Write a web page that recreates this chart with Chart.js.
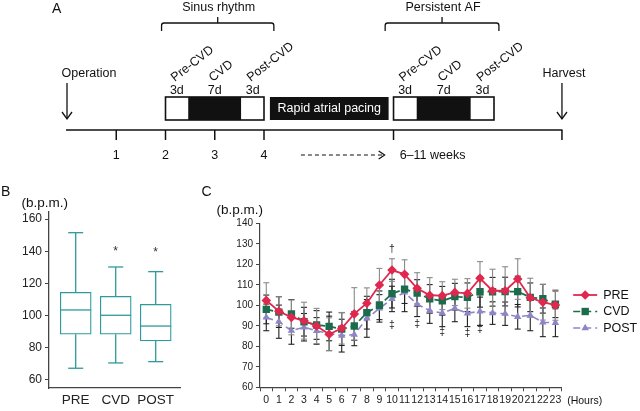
<!DOCTYPE html>
<html><head><meta charset="utf-8">
<script src="https://cdn.jsdelivr.net/npm/chart.js@4.4.1/dist/chart.umd.min.js"></script>
<style>
html,body{margin:0;padding:0;background:#fff;}
#wrap{position:relative;width:640px;height:411px;overflow:hidden;background:#fff}
canvas{position:absolute}
</style></head><body>
<div id="wrap">
<canvas id="cA" width="640" height="180" style="left:0;top:0;width:640px;height:180px"></canvas>
<canvas id="cB" width="185" height="231" style="left:0;top:180px;width:185px;height:231px"></canvas>
<canvas id="cC" width="455" height="231" style="left:185px;top:180px;width:455px;height:231px"></canvas>
</div>
<script>
// ---------- Panel A (protocol timeline) ----------
const timelineTicks = [1, 2, 3, 4, 6.63, 10.05];
const timelineTickLabels = ['1', '2', '3', '4'];
const timelineEnd = 10.05;
const operationAt = 0;
const harvestAt = 10.05;
const periodTitles = ['Sinus rhythm', 'Persistent AF'];
const periodBoxes = [[2.0, 4.0], [6.63, 8.67]];
const periodBraces = [[1.92, 4.2], [6.46, 8.77]];
const phaseNames = ['Pre-CVD', 'CVD', 'Post-CVD'];
const phaseDays = [3, 7, 3];
const phaseDayLabels = ['3d', '7d', '3d'];
const pacingBox = [4.12, 6.53];
const pacingLabel = 'Rapid atrial pacing';
const weeksArrow = [4.75, 6.45];
const weeksLabel = '6\u201311 weeks';

// ---------- Panel B (box plot) ----------
const boxCats = ['PRE', 'CVD', 'POST'];
const boxMin = [67.3, 70.6, 71.4];
const boxQ1 = [88.4, 88.4, 84.2];
const boxMed = [103.5, 100.2, 93.5];
const boxQ3 = [114.5, 112, 107];
const boxMax = [151.5, 130.2, 127.3];
const boxStar = [null, 140.7, 140.3];
const boxYTicks = [60, 80, 100, 120, 140, 160];

// ---------- Panel C (hourly heart rate) ----------
const hours = ['0','1','2','3','4','5','6','7','8','9','10','11','12','13','14','15','16','17','18','19','20','21','22','23'];
const preHR  = [102.4,97.1,94.1,92.5,89.9,85.9,88.8,95.8,101,109.9,117.2,115.1,108.3,104.9,104.7,106.3,105.8,113.2,107.1,107.1,112.8,103.7,101.5,100.1];
const preSD  = [8.6,7.1,8.5,9,8.6,8,7.7,12.8,7.5,8.1,5.5,7.1,7.6,8.6,6.8,6.4,7.2,8.1,10.5,11.7,9.9,9.5,8.7,7.4];
const cvdHR  = [98,96.7,95.8,92,90.4,89.7,88.4,89.9,96.4,100,105.7,107.9,106,103.1,102.2,104.2,103.9,106.6,106.6,106.7,106.7,103.9,103.2,100.5];
const cvdSD  = [7,7.5,7,7,7,7,8,7,8,7,7,7,6.5,7,7,6.5,7,7.5,7,7,7.5,7,7,6.5];
const postHR = [94.1,92,87.6,89.3,87.5,86.3,85.2,85.7,93.6,98.5,103.1,106.3,100.5,97.4,96.2,98.5,96.1,97.1,96.2,95.9,94.4,95.1,91.7,91.5];
const postSD = [6.5,8.1,6.6,6.7,6.5,8.4,8,5.4,9.2,6.7,6.2,9.4,6,6.2,6.6,6.5,6.5,6.9,5.5,5.7,6,7.5,7,6.8];
const seriesNames = ['PRE', 'CVD', 'POST'];
const daggerMarks = [{hour: 10, value: 127.5, sym: '\u2020'}];
const ddaggerMarks = [{hour: 10, value: 90.5}, {hour: 12, value: 91}, {hour: 14, value: 87}, {hour: 16, value: 86.3}, {hour: 17, value: 88.5}];

const FONT = '"Liberation Sans", Arial, Helvetica, sans-serif';
const fnt = s => s + 'px ' + FONT;
Chart.defaults.font.family = FONT;
Chart.defaults.color = '#222';

const RED = '#e0284f', GREEN = '#1b6c4c', LAV = '#8d86c6', TEAL = '#2e9a9b';

function line(ctx, x1, y1, x2, y2) { ctx.beginPath(); ctx.moveTo(x1, y1); ctx.lineTo(x2, y2); ctx.stroke(); }

// ================= Panel A =================
const aPlugin = {
  id: 'schematic',
  afterDraw(chart) {
    const ctx = chart.ctx;
    const X = v => chart.scales.x.getPixelForValue(v);
    const Y = v => chart.scales.y.getPixelForValue(v);
    ctx.save();
    ctx.fillStyle = '#111'; ctx.strokeStyle = '#111';
    ctx.textBaseline = 'middle';
    ctx.font = fnt(14); ctx.textAlign = 'left';
    ctx.fillText('A', 52, 9);

    // period titles and braces
    ctx.font = fnt(12.5);
    periodTitles.forEach((t, i) => {
      const [b1, b2] = periodBraces[i];
      const x1 = X(b1), x2 = X(b2), xm = (x1 + x2) / 2;
      ctx.textAlign = 'center';
      ctx.fillText(t, xm + 1, Y(8));
      ctx.lineWidth = 1.3;
      ctx.beginPath();
      ctx.moveTo(x1, Y(31)); ctx.lineTo(x1, Y(25.5));
      ctx.quadraticCurveTo(x1, Y(23), x1 + 2.5, Y(23));
      ctx.lineTo(x2 - 2.5, Y(23));
      ctx.quadraticCurveTo(x2, Y(23), x2, Y(25.5));
      ctx.lineTo(x2, Y(31));
      ctx.moveTo(xm, Y(23)); ctx.lineTo(xm, Y(17));
      ctx.stroke();
    });

    // boxes with phases
    periodBoxes.forEach(([s, e]) => {
      const total = phaseDays.reduce((a, b) => a + b, 0);
      let cur = s;
      phaseDays.forEach((d, k) => {
        const nxt = cur + (e - s) * d / total;
        const xa = X(cur), xb = X(nxt), xc = (xa + xb) / 2;
        ctx.fillStyle = k === 1 ? '#111' : '#fff';
        ctx.fillRect(xa, Y(97), xb - xa, Y(120) - Y(97));
        ctx.fillStyle = '#111';
        ctx.font = fnt(12.5); ctx.textAlign = 'center';
        ctx.fillText(phaseDayLabels[k], xc, Y(91));
        ctx.save();
        ctx.translate(xc - 2, Y(82));
        ctx.rotate(-38 * Math.PI / 180);
        ctx.textAlign = 'left'; ctx.textBaseline = 'alphabetic';
        ctx.font = fnt(12.5);
        ctx.fillText(phaseNames[k], 0, 0);
        ctx.restore();
        cur = nxt;
      });
      ctx.lineWidth = 1.6;
      ctx.strokeRect(X(s), Y(97), X(e) - X(s), Y(120) - Y(97));
    });

    // pacing box
    ctx.fillStyle = '#111';
    ctx.fillRect(X(pacingBox[0]), Y(97), X(pacingBox[1]) - X(pacingBox[0]), Y(120) - Y(97));
    ctx.fillStyle = '#fff'; ctx.textAlign = 'center'; ctx.font = fnt(12.5);
    ctx.fillText(pacingLabel, (X(pacingBox[0]) + X(pacingBox[1])) / 2, Y(108.5));
    ctx.fillStyle = '#111';

    // operation / harvest arrows
    ctx.lineWidth = 1.3;
    [[operationAt, 'Operation', 'left', -5.5], [harvestAt, 'Harvest', 'center', 2]].forEach(([u, t, al, dx]) => {
      const x = X(u);
      ctx.textAlign = al; ctx.font = fnt(12.5);
      ctx.fillText(t, x + dx, Y(74));
      line(ctx, x, Y(83), x, Y(119));
      ctx.beginPath(); ctx.moveTo(x - 5, Y(112)); ctx.lineTo(x, Y(119)); ctx.lineTo(x + 5, Y(112)); ctx.stroke();
    });

    // timeline
    ctx.lineWidth = 1.5;
    line(ctx, X(0) - 1, Y(130), X(timelineEnd) + 0.5, Y(130));
    timelineTicks.forEach(u => line(ctx, X(u), Y(130), X(u), Y(140)));
    ctx.font = fnt(12.5); ctx.textAlign = 'center';
    timelineTickLabels.forEach((l, i) => ctx.fillText(l, X(timelineTicks[i]), Y(156)));

    // dashed arrow + weeks
    ctx.lineWidth = 1.2; ctx.setLineDash([4, 3]);
    line(ctx, X(weeksArrow[0]), Y(155), X(weeksArrow[1]), Y(155));
    ctx.setLineDash([]);
    const xe = X(weeksArrow[1]);
    ctx.beginPath(); ctx.moveTo(xe - 6, Y(151)); ctx.lineTo(xe, Y(155)); ctx.lineTo(xe - 6, Y(159)); ctx.stroke();
    ctx.textAlign = 'left';
    ctx.fillText(weeksLabel, X(weeksArrow[1]) + 15, Y(156));
    ctx.restore();
  }
};

new Chart(document.getElementById('cA'), {
  type: 'scatter',
  data: { datasets: [{ data: [] }] },
  options: {
    responsive: false, animation: false, events: [],
    layout: { padding: 0 },
    plugins: { legend: { display: false }, tooltip: { enabled: false } },
    scales: {
      x: { type: 'linear', display: false, min: -67 / 49.25, max: (640 - 67) / 49.25 },
      y: { type: 'linear', display: false, min: 0, max: 180, reverse: true }
    }
  },
  plugins: [aPlugin]
});

// ================= Panel B =================
const bPlugin = {
  id: 'boxparts',
  afterDatasetsDraw(chart) {
    const ctx = chart.ctx, xs = chart.scales.x, ys = chart.scales.y;
    const meta = chart.getDatasetMeta(0);
    ctx.save();
    ctx.strokeStyle = TEAL; ctx.lineWidth = 1.3;
    boxCats.forEach((c, i) => {
      const x = xs.getPixelForValue(i + 1);
      const half = meta.data[i].width / 2, cap = 7.5;
      const ym = ys.getPixelForValue(boxMed[i]);
      line(ctx, x - half, ym, x + half, ym);
      line(ctx, x, ys.getPixelForValue(boxQ3[i]), x, ys.getPixelForValue(boxMax[i]));
      line(ctx, x - cap, ys.getPixelForValue(boxMax[i]), x + cap, ys.getPixelForValue(boxMax[i]));
      line(ctx, x, ys.getPixelForValue(boxQ1[i]), x, ys.getPixelForValue(boxMin[i]));
      line(ctx, x - cap, ys.getPixelForValue(boxMin[i]), x + cap, ys.getPixelForValue(boxMin[i]));
      if (boxStar[i] != null) {
        ctx.fillStyle = '#333'; ctx.font = fnt(12); ctx.textAlign = 'center'; ctx.textBaseline = 'middle';
        ctx.fillText('*', x, ys.getPixelForValue(boxStar[i]) + 2);
      }
    });
    ctx.fillStyle = '#111'; ctx.textAlign = 'left'; ctx.textBaseline = 'middle';
    ctx.font = fnt(14); ctx.fillText('B', 1, 12.5);
    ctx.font = fnt(13.5); ctx.fillText('(b.p.m.)', 21.5, 23.5);
    ctx.restore();
  }
};

new Chart(document.getElementById('cB'), {
  type: 'bar',
  data: {
    datasets: [{
      data: boxCats.map((c, i) => ({ x: i + 1, y: [boxQ1[i], boxQ3[i]] })),
      backgroundColor: '#ffffff', borderColor: TEAL, borderWidth: 1.3, borderSkipped: false,
      barThickness: 31
    }]
  },
  options: {
    responsive: false, animation: false, events: [],
    layout: { padding: { top: 32, right: 5, left: 0, bottom: 0 } },
    plugins: { legend: { display: false }, tooltip: { enabled: false } },
    scales: {
      x: {
        type: 'linear', min: 0.3325, max: 3.6075, offset: false,
        afterBuildTicks: s => { s.ticks = boxCats.map((c, i) => ({ value: i + 1 })); },
        afterFit: s => { s.height = 23; },
        ticks: { callback: v => boxCats[v - 1], font: { size: 13.5 }, color: '#222', padding: 4, maxRotation: 0 },
        grid: { display: true, drawOnChartArea: false, drawTicks: false },
        border: { color: '#444', width: 1.3 }
      },
      y: {
        type: 'linear', min: 55.03, max: 164.35,
        afterBuildTicks: s => { s.ticks = boxYTicks.map(v => ({ value: v })); },
        afterFit: s => { s.width = 49; },
        ticks: { font: { size: 12 }, color: '#222', padding: 3 },
        grid: { drawOnChartArea: false, drawTicks: true, tickLength: 4, color: '#444' },
        border: { color: '#444', width: 1.3 }
      }
    }
  },
  plugins: [bPlugin]
});

// ================= Panel C =================
const seriesSD = [preSD, cvdSD, postSD];
const barColors = ['#8a8a8a', '#222', '#222'];

function drawMarker(ctx, style, x, y, r, color) {
  ctx.save(); ctx.fillStyle = color; ctx.strokeStyle = color; ctx.lineWidth = 1;
  ctx.beginPath();
  if (style === 'rectRot') { ctx.moveTo(x, y - r); ctx.lineTo(x + r, y); ctx.lineTo(x, y + r); ctx.lineTo(x - r, y); }
  else if (style === 'rect') { const h = r * Math.SQRT1_2; ctx.rect(x - h, y - h, 2 * h, 2 * h); }
  else { ctx.moveTo(x, y - r); ctx.lineTo(x + r * 0.866, y + r * 0.5); ctx.lineTo(x - r * 0.866, y + r * 0.5); }
  ctx.closePath(); ctx.fill(); ctx.restore();
}

const cPlugin = {
  id: 'errbars',
  beforeDatasetsDraw(chart) {
    const ctx = chart.ctx, xs = chart.scales.x, ys = chart.scales.y;
    ctx.save(); ctx.lineWidth = 1.1;
    [2, 1, 0].forEach(d => {
      const ds = chart.data.datasets[d];
      ctx.strokeStyle = barColors[d];
      ds.data.forEach((v, i) => {
        const x = xs.getPixelForValue(i);
        const yt = ys.getPixelForValue(v + seriesSD[d][i]), yb = ys.getPixelForValue(v - seriesSD[d][i]);
        line(ctx, x, yt, x, yb);
        line(ctx, x - 3, yt, x + 3, yt);
        line(ctx, x - 3, yb, x + 3, yb);
      });
    });
    ctx.restore();
  },
  afterDraw(chart) {
    const ctx = chart.ctx, xs = chart.scales.x, ys = chart.scales.y;
    ctx.save();
    ctx.fillStyle = '#222'; ctx.textAlign = 'center'; ctx.textBaseline = 'middle';
    ctx.font = fnt(10.5);
    daggerMarks.forEach(m => ctx.fillText(m.sym, xs.getPixelForValue(m.hour), ys.getPixelForValue(m.value)));
    ddaggerMarks.forEach(m => ctx.fillText('\u2021', xs.getPixelForValue(m.hour), ys.getPixelForValue(m.value)));
    // labels
    ctx.fillStyle = '#111'; ctx.textAlign = 'left';
    ctx.font = fnt(14); ctx.fillText('C', 16.5, 12.5);
    ctx.font = fnt(13.5); ctx.fillText('(b.p.m.)', 31.5, 30);
    ctx.font = fnt(10.5); ctx.fillText('(Hours)', xs.right + 5.5, 221.5);
    // legend
    const lx = xs.right + 11.5;
    chart.data.datasets.forEach((ds, i) => {
      const y = 115 + i * 16.5;
      ctx.save();
      ctx.strokeStyle = ds.borderColor; ctx.lineWidth = ds.borderWidth;
      ctx.setLineDash(ds.borderDash || []);
      line(ctx, lx, y, lx + 24, y);
      ctx.restore();
      drawMarker(ctx, ds.pointStyle, lx + 12, y, ds.pointRadius, ds.borderColor);
      ctx.fillStyle = '#111'; ctx.font = fnt(12.5); ctx.textAlign = 'left';
      ctx.fillText(ds.label, lx + 30, y + 0.5);
    });
    ctx.restore();
  }
};

new Chart(document.getElementById('cC'), {
  type: 'line',
  data: {
    labels: hours,
    datasets: [
      { label: seriesNames[0], data: preHR, borderColor: RED, backgroundColor: RED, borderWidth: 1.8,
        pointStyle: 'rectRot', pointRadius: 4.8, pointBorderWidth: 0, fill: false, tension: 0 },
      { label: seriesNames[1], data: cvdHR, borderColor: GREEN, backgroundColor: GREEN, borderWidth: 1.7, borderDash: [7, 4],
        pointStyle: 'rect', pointRadius: 5.2, pointBorderWidth: 0, fill: false, tension: 0 },
      { label: seriesNames[2], data: postHR, borderColor: LAV, backgroundColor: LAV, borderWidth: 1.6, borderDash: [7, 4],
        pointStyle: 'triangle', pointRadius: 4.3, pointBorderWidth: 0, fill: false, tension: 0 }
    ]
  },
  options: {
    responsive: false, animation: false, events: [],
    layout: { padding: { top: 43.3, right: 78.3, left: 0, bottom: 0 } },
    plugins: { legend: { display: false }, tooltip: { enabled: false } },
    scales: {
      x: {
        type: 'category', offset: true,
        afterFit: s => { s.height = 23.7; },
        ticks: { autoSkip: false, maxRotation: 0, minRotation: 0, font: { size: 10.5 }, color: '#222', padding: 3 },
        grid: { offset: true, drawOnChartArea: false, drawTicks: true, tickLength: 4, color: '#444' },
        border: { color: '#444', width: 1.2 }
      },
      y: {
        type: 'linear', min: 60, max: 140,
        afterFit: s => { s.width = 75; },
        ticks: { stepSize: 10, font: { size: 10 }, color: '#222', padding: 3 },
        grid: { drawOnChartArea: false, drawTicks: true, tickLength: 4, color: '#444' },
        border: { color: '#444', width: 1.2 }
      }
    }
  },
  plugins: [cPlugin]
});
</script>
</body></html>
